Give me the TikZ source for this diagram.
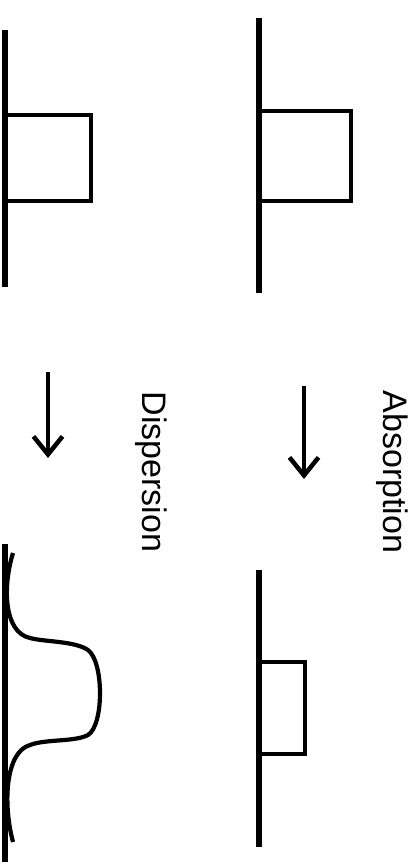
\documentclass[tikz,border=0pt]{standalone}
\usepackage{fontspec}
\setmainfont{Liberation Sans}
\usetikzlibrary{arrows.meta}

\tikzset{
  axis/.style={line width=6pt},
  peak/.style={line width=4.2pt, line join=miter},
  step arrow/.style={line width=4.5pt, -{Straight Barb[length=18pt, width=29pt, line width=4.5pt]}},
  label/.style={rotate=-90, inner sep=0pt, font=\fontsize{34}{40}\selectfont}
}

\begin{document}
\begin{tikzpicture}[x=1pt, y=-1pt]
        \useasboundingbox (0,0) rectangle (416,865);

        % Nodes
        \coordinate (A1) at (259,18);
        \coordinate (A2) at (259,293);
        \coordinate (D1) at (5,30);
        \coordinate (D2) at (5,287);
        \coordinate (a1) at (259,570);
        \coordinate (a2) at (259,847);
        \coordinate (d1) at (5,544);
        \coordinate (d2) at (5,862);
        \coordinate (Atop) at (304,386);
        \coordinate (Abot) at (304,479);
        \coordinate (Dtop) at (48,372);
        \coordinate (Dbot) at (48,458);
        \node[label] (absorption) at (392,472) {Absorption};
        \node[label] (dispersion) at (151,472) {Dispersion};

        % Lines
        \draw[axis] (A1) -- (A2);
        \draw[axis] (D1) -- (D2);
        \draw[axis] (a1) -- (a2);
        \draw[axis] (d1) -- (d2);

        % Pulses
        \draw[peak] (259,111) -- (351,111) -- (351,201) -- (259,201);
        \draw[peak] (5,115) -- (91,115) -- (91,201) -- (5,201);
        \draw[peak] (259,662) -- (305,662) -- (305,754) -- (259,754);
        \draw[peak] (13,553) .. controls (3,585) and (3,632) .. (30,638)
                .. controls (45,642) and (75,641) .. (88,650)
                .. controls (104,662) and (104,725) .. (88,735)
                .. controls (75,742) and (45,739) .. (30,745)
                .. controls (5,752) and (3,805) .. (13,842);

        % Arrows
        \draw[step arrow] (Atop) -- (Abot);
        \draw[step arrow] (Dtop) -- (Dbot);
\end{tikzpicture}
\end{document}
